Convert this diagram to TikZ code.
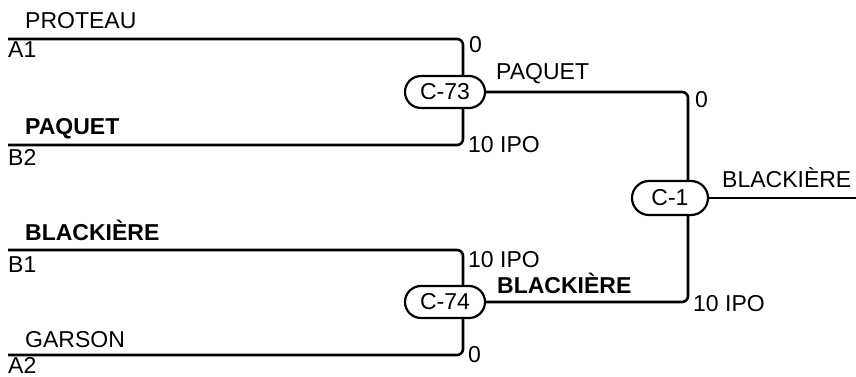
\documentclass[tikz,border=0pt]{standalone}
\usepackage{fontspec}
\setmainfont{Liberation Sans}
\begin{document}
\begin{tikzpicture}[x=1pt,y=-1pt,
  conn/.style={line width=2.6pt,rounded corners=6pt},
  game/.style={draw,line width=2.2pt,rectangle,rounded corners=16pt,minimum width=80pt,minimum height=32pt,inner sep=0pt,font=\fontsize{23}{25}\selectfont},
  lbl/.style={anchor=base west,inner sep=0pt,font=\fontsize{23}{25}\selectfont},
  blbl/.style={lbl,font=\fontsize{23}{25}\selectfont\bfseries}]
\useasboundingbox (0,0) rectangle (856,377);
% game nodes
\node[game] (c73) at (445,92) {C-73};
\node[game] (c74) at (445,302) {C-74};
\node[game,minimum width=76pt,minimum height=34pt,rounded corners=17pt] (c1) at (670,198) {C-1};
% free ends
\coordinate (a1) at (8,39);
\coordinate (b2) at (8,145);
\coordinate (b1) at (8,250);
\coordinate (a2) at (8,355);
\coordinate (out) at (856,198);
% connectors
\draw[conn] (a1) -| ([xshift=18pt]c73.north);
\draw[conn] (b2) -| ([xshift=18pt]c73.south);
\draw[conn] (b1) -| ([xshift=18pt]c74.north);
\draw[conn] (a2) -| ([xshift=18pt]c74.south);
\draw[conn] (c73.east) -| ([xshift=18pt]c1.north);
\draw[conn] (c74.east) -| ([xshift=18pt]c1.south);
\draw[conn] (c1.east) -- (out);
% left labels
\node[lbl] (lproteau) at (25,29) {PROTEAU};
\node[lbl] (la1) at (8,58) {A1};
\node[blbl] (lpaquet) at (25,135) {PAQUET};
\node[lbl] (lb2) at (8,165) {B2};
\node[blbl] (lblack) at (25,240) {BLACKIÈRE};
\node[lbl] (lb1) at (8,272) {B1};
\node[lbl] (lgarson) at (25,347) {GARSON};
\node[lbl] (la2) at (8,373) {A2};
% score labels
\node[lbl] (s73a) at (469,53) {0};
\node[lbl] (s73b) at (468,152) {10 IPO};
\node[lbl] (s74a) at (468,267) {10 IPO};
\node[lbl] (s74b) at (468,362) {0};
\node[lbl] (s1a) at (695,107) {0};
\node[lbl] (s1b) at (693,311) {10 IPO};
% winner labels
\node[lbl] (w73) at (496,80) {PAQUET};
\node[blbl] (w74) at (497,293) {BLACKIÈRE};
\node[lbl] (w1) at (722,187) {BLACKIÈRE};
\end{tikzpicture}
\end{document}
